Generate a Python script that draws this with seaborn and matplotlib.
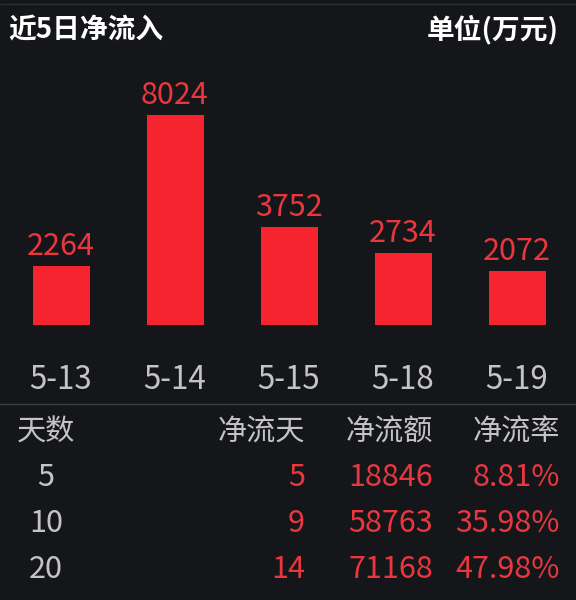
import matplotlib
matplotlib.use("Agg")
import matplotlib.pyplot as plt
import seaborn as sns

# data
dates = ["5-13", "5-14", "5-15", "5-18", "5-19"]
inflow = [2264, 8024, 3752, 2734, 2072]

table_header = ["天数", "净流天", "净流额", "净流率"]
period_days = ["5", "10", "20"]
inflow_days = ["5", "9", "14"]
inflow_amount = ["18846", "58763", "71168"]
inflow_rate = ["8.81%", "35.98%", "47.98%"]

BG = "#15161a"
RED = "#f5242f"
RED_TXT = "#e8373f"
GREY = "#c4c4c4"
LINE = "#3a3c41"

sns.set_style("dark")
plt.rcParams["font.family"] = ["Noto Sans CJK SC", "DejaVu Sans"]

W, H = 576, 600
fig = plt.figure(figsize=(W / 100, H / 100), dpi=100)
fig.patch.set_facecolor(BG)

# bar area: baseline at y=325 px, x range covers 4..574 px
ax = fig.add_axes([4 / W, (H - 325) / H, 570 / W, 265 / H])
ax.set_facecolor(BG)
sns.barplot(x=dates, y=inflow, color=RED, saturation=1, width=0.5,
            linewidth=0, ax=ax)
ax.set_ylim(0, 10126)
ax.set_xlim(-0.5, 4.5)
ax.bar_label(ax.containers[0], padding=3, fontsize=22, color=RED_TXT)
ax.set_yticks([])
ax.set_xlabel("")
ax.set_ylabel("")
ax.tick_params(axis="x", length=0, pad=28, labelsize=22.5, labelcolor=GREY)
ax.grid(False)
for s in ax.spines.values():
    s.set_visible(False)

# header
fig.text(8 / W, 1 - 30 / H, "近5日净流入", fontsize=20, fontweight="bold",
         color="white", ha="left", va="center")
fig.text(559 / W, 1 - 30 / H, "单位(万元)", fontsize=20, fontweight="bold",
         color="white", ha="right", va="center")

# separator lines
fig.add_artist(plt.Line2D([0, 1], [1 - 4 / H, 1 - 4 / H], color="#2c2e33", lw=1))
fig.add_artist(plt.Line2D([0, 1], [1 - 404 / H, 1 - 404 / H], color=LINE, lw=1))

# table
col_x = [46, 305, 433, 560]
row_y = [433, 478, 523, 570]
fig.text(col_x[0] / W, 1 - row_y[0] / H, table_header[0], fontsize=21,
         color=GREY, ha="center", va="center")
for j in range(1, 4):
    fig.text(col_x[j] / W, 1 - row_y[0] / H, table_header[j], fontsize=21,
             color=GREY, ha="right", va="center")

for i in range(len(period_days)):
    y = 1 - row_y[i + 1] / H
    fig.text(col_x[0] / W, y, period_days[i], fontsize=22, color=GREY,
             ha="center", va="center")
    for j, col in enumerate([inflow_days, inflow_amount, inflow_rate], start=1):
        fig.text(col_x[j] / W, y, col[i], fontsize=22, color=RED_TXT,
                 ha="right", va="center")

fig.savefig("out.png", dpi=100, facecolor=BG)
